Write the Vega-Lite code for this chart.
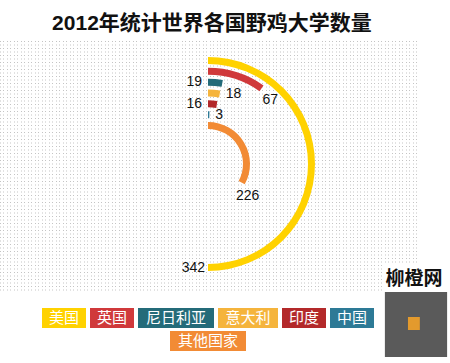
{
  "$schema": "https://vega.github.io/schema/vega-lite/v6.json",
  "padding": {"top": 13, "left": 0, "right": 0, "bottom": 0},
  "background": "white",
  "bounds": "flush",
  "title": {
    "text": "2012年统计世界各国野鸡大学数量",
    "fontSize": 21,
    "font": "Liberation Sans, Noto Sans CJK SC",
    "fontWeight": "bold",
    "color": "#111111",
    "anchor": "middle",
    "dx": -13,
    "offset": 4
  },
  "config": {
    "view": {"stroke": null},
    "legend": {"disable": true}
  },
  "datasets": {
    "uni": [
      {"country": "美国", "count": 342},
      {"country": "英国", "count": 67},
      {"country": "尼日利亚", "count": 19},
      {"country": "意大利", "count": 18},
      {"country": "印度", "count": 16},
      {"country": "中国", "count": 3},
      {"country": "其他国家", "count": 226}
    ],
    "logo": [{"label": "柳橙网"}]
  },
  "spacing": 18,
  "vconcat": [
    {
      "width": 416,
      "height": 252,
      "layer": [
        {
          "data": {"name": "logo"},
          "mark": {"type": "point", "opacity": 0},
          "encoding": {
            "x": {
              "datum": 60,
              "type": "quantitative",
              "scale": {"domain": [0, 119], "nice": false, "zero": false},
              "axis": {
                "grid": true,
                "gridDash": [1, 2.5],
                "gridColor": "#c4c4c4",
                "gridOpacity": 1,
                "gridWidth": 1,
                "tickCount": 119,
                "domain": false,
                "ticks": false,
                "labels": false,
                "title": null
              }
            }
          }
        },
        {
          "data": {"name": "uni"},
          "mark": {"type": "arc", "radiusOffset": 3.5, "radius2Offset": -3.5},
          "encoding": {
            "theta": {
              "field": "count",
              "type": "quantitative",
              "stack": null,
              "scale": {"domain": [0, 342], "range": [0, 3.14159265], "nice": false, "zero": true}
            },
            "theta2": {"datum": 0},
            "radius": {
              "field": "country",
              "type": "nominal",
              "scale": {
                "type": "point",
                "domain": ["其他国家", "中国", "印度", "意大利", "尼日利亚", "英国", "美国"],
                "range": [38.5, 103.5],
                "padding": 0
              }
            },
            "radius2": {"field": "country"},
            "color": {
              "field": "country",
              "type": "nominal",
              "scale": {
                "domain": ["美国", "英国", "尼日利亚", "意大利", "印度", "中国", "其他国家"],
                "range": ["#FFD200", "#D0393B", "#246B79", "#F5B43C", "#B3292A", "#2D7A96", "#F28B35"]
              }
            }
          }
        },
        {
          "data": {"name": "uni"},
          "transform": [{"filter": "datum.country === '美国'"}],
          "mark": {"type": "text", "font": "Liberation Sans", "fontSize": 14, "color": "#111111", "align": "right", "baseline": "middle", "dx": -3},
          "encoding": {
            "theta": {"field": "count", "type": "quantitative", "stack": null},
            "radius": {"field": "country", "type": "nominal"},
            "text": {"field": "count", "type": "quantitative"}
          }
        },
        {
          "data": {"name": "uni"},
          "transform": [{"filter": "datum.country === '英国'"}],
          "mark": {"type": "text", "font": "Liberation Sans", "fontSize": 14, "color": "#111111", "align": "left", "baseline": "middle", "dx": 1, "dy": 12},
          "encoding": {
            "theta": {"field": "count", "type": "quantitative", "stack": null},
            "radius": {"field": "country", "type": "nominal"},
            "text": {"field": "count", "type": "quantitative"}
          }
        },
        {
          "data": {"name": "uni"},
          "transform": [{"filter": "datum.country === '其他国家'"}],
          "mark": {"type": "text", "font": "Liberation Sans", "fontSize": 14, "color": "#111111", "align": "center", "baseline": "middle", "dx": 6, "dy": 13},
          "encoding": {
            "theta": {"field": "count", "type": "quantitative", "stack": null},
            "radius": {"field": "country", "type": "nominal"},
            "text": {"field": "count", "type": "quantitative"}
          }
        },
        {
          "data": {"name": "uni"},
          "transform": [{"filter": "datum.country === '尼日利亚' || datum.country === '印度'"}],
          "mark": {"type": "text", "font": "Liberation Sans", "fontSize": 14, "color": "#111111", "align": "right", "baseline": "middle", "dx": -6},
          "encoding": {
            "theta": {"datum": 0, "type": "quantitative"},
            "radius": {"field": "country", "type": "nominal"},
            "text": {"field": "count", "type": "quantitative"}
          }
        },
        {
          "data": {"name": "uni"},
          "transform": [{"filter": "datum.country === '意大利' || datum.country === '中国'"}],
          "mark": {"type": "text", "font": "Liberation Sans", "fontSize": 14, "color": "#111111", "align": "left", "baseline": "middle", "dx": 6},
          "encoding": {
            "theta": {"field": "count", "type": "quantitative", "stack": null},
            "radius": {"field": "country", "type": "nominal"},
            "text": {"field": "count", "type": "quantitative"}
          }
        },
        {
          "data": {"name": "logo"},
          "mark": {"type": "rect", "color": "white", "y": {"expr": "height - 25"}, "y2": {"expr": "height + 70"}},
          "encoding": {
            "x": {"datum": 109.6, "type": "quantitative"},
            "x2": {"datum": 128.7}
          }
        },
        {
          "data": {"name": "logo"},
          "mark": {"type": "rect", "color": "#5a5a5a", "y": {"expr": "height + 2"}, "y2": {"expr": "height + 67"}},
          "encoding": {
            "x": {"datum": 110.1, "type": "quantitative"},
            "x2": {"datum": 127.9}
          }
        },
        {
          "data": {"name": "logo"},
          "mark": {"type": "rect", "color": "#E39A2D", "y": {"expr": "height + 27"}, "y2": {"expr": "height + 40"}},
          "encoding": {
            "x": {"datum": 116.7, "type": "quantitative"},
            "x2": {"datum": 120.1}
          }
        },
        {
          "data": {"name": "logo"},
          "mark": {"type": "text", "font": "Noto Sans CJK SC", "fontWeight": "bold", "fontSize": 19, "color": "#111111", "align": "center", "baseline": "middle", "y": {"expr": "height - 11"}},
          "encoding": {
            "x": {"datum": 118.4, "type": "quantitative"},
            "text": {"field": "label", "type": "nominal"}
          }
        }
      ]
    },
    {
      "spacing": 3,
      "vconcat": [
        {
          "spacing": 4,
          "hconcat": [
            {
              "width": 38, "height": 20,
              "data": {"name": "logo"},
              "mark": {"type": "bar", "color": "white"},
              "encoding": {}
            },
            {
              "width": 44, "height": 20,
              "data": {"name": "uni"},
              "transform": [{"filter": "datum.country === '美国'"}],
              "layer": [
                {"mark": "bar", "encoding": {"color": {"field": "country", "type": "nominal"}}},
                {"mark": {"type": "text", "color": "white", "fontSize": 15, "font": "Noto Sans CJK SC"}, "encoding": {"text": {"field": "country", "type": "nominal"}}}
              ]
            },
            {
              "width": 44, "height": 20,
              "data": {"name": "uni"},
              "transform": [{"filter": "datum.country === '英国'"}],
              "layer": [
                {"mark": "bar", "encoding": {"color": {"field": "country", "type": "nominal"}}},
                {"mark": {"type": "text", "color": "white", "fontSize": 15, "font": "Noto Sans CJK SC"}, "encoding": {"text": {"field": "country", "type": "nominal"}}}
              ]
            },
            {
              "width": 76, "height": 20,
              "data": {"name": "uni"},
              "transform": [{"filter": "datum.country === '尼日利亚'"}],
              "layer": [
                {"mark": "bar", "encoding": {"color": {"field": "country", "type": "nominal"}}},
                {"mark": {"type": "text", "color": "white", "fontSize": 15, "font": "Noto Sans CJK SC"}, "encoding": {"text": {"field": "country", "type": "nominal"}}}
              ]
            },
            {
              "width": 60, "height": 20,
              "data": {"name": "uni"},
              "transform": [{"filter": "datum.country === '意大利'"}],
              "layer": [
                {"mark": "bar", "encoding": {"color": {"field": "country", "type": "nominal"}}},
                {"mark": {"type": "text", "color": "white", "fontSize": 15, "font": "Noto Sans CJK SC"}, "encoding": {"text": {"field": "country", "type": "nominal"}}}
              ]
            },
            {
              "width": 44, "height": 20,
              "data": {"name": "uni"},
              "transform": [{"filter": "datum.country === '印度'"}],
              "layer": [
                {"mark": "bar", "encoding": {"color": {"field": "country", "type": "nominal"}}},
                {"mark": {"type": "text", "color": "white", "fontSize": 15, "font": "Noto Sans CJK SC"}, "encoding": {"text": {"field": "country", "type": "nominal"}}}
              ]
            },
            {
              "width": 44, "height": 20,
              "data": {"name": "uni"},
              "transform": [{"filter": "datum.country === '中国'"}],
              "layer": [
                {"mark": "bar", "encoding": {"color": {"field": "country", "type": "nominal"}}},
                {"mark": {"type": "text", "color": "white", "fontSize": 15, "font": "Noto Sans CJK SC"}, "encoding": {"text": {"field": "country", "type": "nominal"}}}
              ]
            }
          ]
        },
        {
          "spacing": 4,
          "hconcat": [
            {
              "width": 166, "height": 20,
              "data": {"name": "logo"},
              "mark": {"type": "bar", "color": "white"},
              "encoding": {}
            },
            {
              "width": 76, "height": 20,
              "data": {"name": "uni"},
              "transform": [{"filter": "datum.country === '其他国家'"}],
              "layer": [
                {"mark": "bar", "encoding": {"color": {"field": "country", "type": "nominal"}}},
                {"mark": {"type": "text", "color": "white", "fontSize": 15, "font": "Noto Sans CJK SC"}, "encoding": {"text": {"field": "country", "type": "nominal"}}}
              ]
            }
          ]
        }
      ]
    }
  ]
}
